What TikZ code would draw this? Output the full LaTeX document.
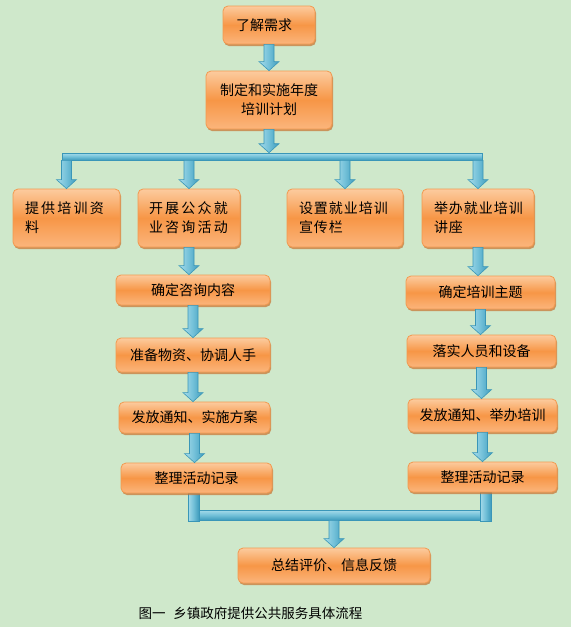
\documentclass[tikz,border=0pt]{standalone}
\usepackage{fontspec}
\setmainfont{Noto Sans CJK SC}
\newfontfamily\wideA[LetterSpace=16]{Noto Sans CJK SC}
\newfontfamily\wideB[LetterSpace=7]{Noto Sans CJK SC}
\usetikzlibrary{calc,shadows}
\definecolor{bg}{HTML}{CFE8CB}
\definecolor{boxtop}{HTML}{FCCB9E}
\definecolor{boxmid}{HTML}{F79646}
\definecolor{boxbot}{HTML}{FBB57C}
\definecolor{boxedge}{HTML}{F2994F}
\definecolor{boxshadow}{HTML}{C8712E}
\definecolor{pipelight}{HTML}{A6DBEA}
\definecolor{pipemid}{HTML}{72C0D8}
\definecolor{pipedark}{HTML}{3E9BBC}
\definecolor{pipeedge}{HTML}{3A96B8}

% vertical block arrow: x of the first point, tip at the second
\newcommand\flowarrow[2]{%
  \path[arrowbody] let \p1=(#1), \p2=(#2) in
    (\x1-5pt,\y1) -- (\x1+5pt,\y1) -- (\x1+5pt,\y2+9pt) -- (\x1+10pt,\y2+9pt)
    -- (\x1,\y2) -- (\x1-10pt,\y2+9pt) -- (\x1-5pt,\y2+9pt) -- cycle;}

\begin{document}
\begin{tikzpicture}[x=1pt,y=-1pt,font=\fontsize{14}{19}\selectfont,
  stepbox/.style={draw=boxedge,line width=0.8pt,rounded corners=5pt,
    top color=boxtop,bottom color=boxbot,middle color=boxmid,
    inner sep=0pt,align=center,
    drop shadow={shadow xshift=1pt,shadow yshift=-2pt,fill=boxshadow,opacity=0.7}},
  textbox/.style={stepbox,align=left,inner xsep=12pt,inner ysep=0pt},
  arrowbody/.style={draw=pipeedge,line width=0.6pt,left color=pipelight,right color=pipedark,middle color=pipemid},
  pipeh/.style={draw=pipeedge,line width=0.6pt,top color=pipelight,bottom color=pipedark,middle color=pipemid,inner sep=0pt},
  pipev/.style={draw=pipeedge,line width=0.6pt,left color=pipelight,right color=pipedark,middle color=pipemid,inner sep=0pt},
  caption/.style={font=\fontsize{13.5}{16}\selectfont}]
  \fill[bg] (0,0) rectangle (571,627);
  \useasboundingbox (0,0) rectangle (571,627);

  % ===== pipes =====
  \node[pipeh,minimum width=420pt,minimum height=7pt] (topbar) at (272,156.5) {};
  \node[pipev,minimum width=11pt,minimum height=28pt] (lstub) at (193.5,507) {};
  \node[pipev,minimum width=11pt,minimum height=29pt] (rstub) at (485.5,506.5) {};
  \node[pipeh,minimum width=281pt,minimum height=10pt] (botbar) at (339.5,515) {};

  % ===== boxes =====
  \node[textbox,text width=66pt,minimum height=38pt,inner xsep=13pt] (need) at (269,25) {了解需求};
  \node[stepbox,minimum width=126pt,minimum height=58pt] (plan) at (269,100) {制定和实施年度\\培训计划};

  \node[textbox,text width=83pt,minimum height=58pt] (b1) at (66.5,218) {\wideA 提供培训资\\料};
  \node[textbox,text width=80pt,minimum height=58pt,inner xsep=11pt] (b2) at (189,218) {\wideA 开展公众就\\业咨询活动};
  \node[textbox,text width=92pt,minimum height=58pt] (b3) at (345,218) {\wideB 设置就业培训\\宣传栏};
  \node[textbox,text width=88pt,minimum height=58pt] (b4) at (478,218) {\wideB 举办就业培训\\讲座};

  \node[stepbox,minimum width=154pt,minimum height=30pt] (l1) at (193,290) {确定咨询内容};
  \node[stepbox,minimum width=154pt,minimum height=34pt] (l2) at (193,355) {准备物资、协调人手};
  \node[stepbox,minimum width=151pt,minimum height=31pt] (l3) at (194.5,417.5) {发放通知、实施方案};
  \node[stepbox,minimum width=151pt,minimum height=30pt] (l4) at (196.5,478) {整理活动记录};

  \node[stepbox,minimum width=149pt,minimum height=33pt] (r1) at (480.5,292.5) {确定培训主题};
  \node[stepbox,minimum width=149pt,minimum height=32pt] (r2) at (481.5,351) {落实人员和设备};
  \node[stepbox,minimum width=149pt,minimum height=33pt] (r3) at (482.5,415.5) {发放通知、举办培训};
  \node[stepbox,minimum width=149pt,minimum height=30pt] (r4) at (482.5,477) {整理活动记录};

  \node[stepbox,minimum width=192pt,minimum height=35pt] (final) at (334,565.5) {总结评价、信息反馈};

  % ===== arrows =====
  \flowarrow{need.south}{plan.north}
  \flowarrow{plan.south}{topbar.north}
  \flowarrow{topbar.south -| b1.north}{b1.north}
  \flowarrow{topbar.south -| b2.north}{b2.north}
  \flowarrow{topbar.south -| b3.north}{b3.north}
  \flowarrow{topbar.south -| b4.north}{b4.north}
  \flowarrow{b2.south}{l1.north}
  \flowarrow{l1.south}{l2.north}
  \flowarrow{l2.south}{l3.north}
  \flowarrow{l3.south}{l4.north}
  \flowarrow{b4.south}{r1.north}
  \flowarrow{r1.south}{r2.north}
  \flowarrow{r2.south}{r3.north}
  \flowarrow{r3.south}{r4.north}
  \flowarrow{botbar.south -| final.north}{final.north}

  \node[caption] (cap) at (250.5,613) {图一\hspace{8pt}乡镇政府提供公共服务具体流程};
\end{tikzpicture}
\end{document}
